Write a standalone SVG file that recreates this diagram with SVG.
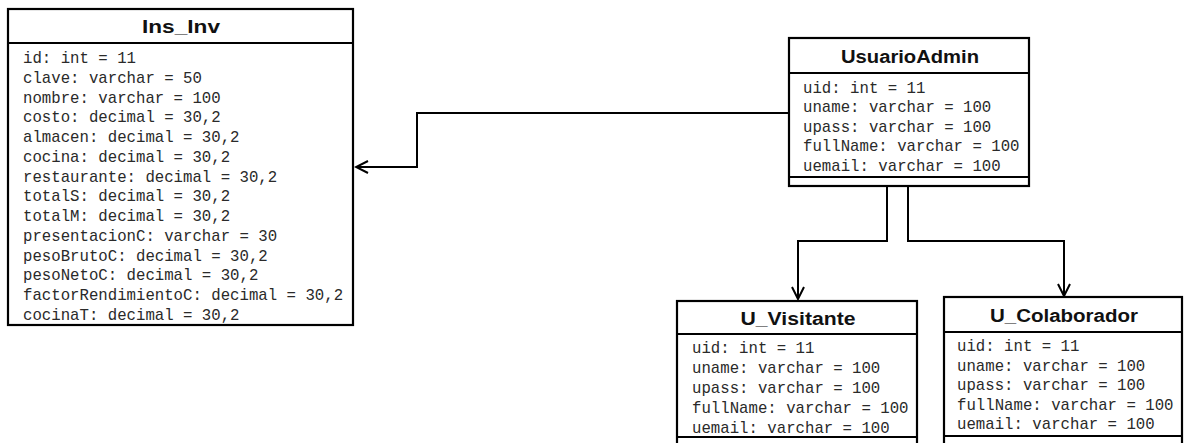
<svg xmlns="http://www.w3.org/2000/svg" width="1184" height="443" viewBox="0 0 1184 443">
<style>
.box{fill:#fff;stroke:#000;stroke-width:2.2}
.sep{stroke:#000;stroke-width:2}
.hd{font-family:"Liberation Sans",Arial,sans-serif;font-weight:bold;font-size:18px;fill:#111;text-anchor:middle}
.at{font-family:"Liberation Mono","Courier New",monospace;font-size:15.7px;fill:#2a2a2a}
.cn{fill:none;stroke:#000;stroke-width:2}
</style>
<defs>
<marker id="arr" viewBox="-14 -8 16 16" markerWidth="16" markerHeight="16" refX="0" refY="0" markerUnits="userSpaceOnUse" orient="auto">
<path d="M-12,-6 L0,0 L-12,6" fill="none" stroke="#000" stroke-width="2"/>
</marker>
</defs>
<rect width="1184" height="443" fill="#fff"/>
<g id="connectors">
<polyline class="cn" points="789,113 417,113 417,167 356,167" marker-end="url(#arr)"/>
<polyline class="cn" points="887,187 887,241 798,241 798,299" marker-end="url(#arr)"/>
<polyline class="cn" points="908,187 908,241 1064,241 1064,296" marker-end="url(#arr)"/>
</g>
<g id="Ins_Inv">
<rect class="box" x="8" y="9" width="345" height="316"/>
<line class="sep" x1="8" y1="43" x2="353" y2="43"/>
<text class="hd" x="181" y="33" textLength="78" lengthAdjust="spacingAndGlyphs">Ins_Inv</text>
<text class="at" x="23" y="63">id: int = 11</text>
<text class="at" x="23" y="82.75">clave: varchar = 50</text>
<text class="at" x="23" y="102.5">nombre: varchar = 100</text>
<text class="at" x="23" y="122.25">costo: decimal = 30,2</text>
<text class="at" x="23" y="142">almacen: decimal = 30,2</text>
<text class="at" x="23" y="161.75">cocina: decimal = 30,2</text>
<text class="at" x="23" y="181.5">restaurante: decimal = 30,2</text>
<text class="at" x="23" y="201.25">totalS: decimal = 30,2</text>
<text class="at" x="23" y="221">totalM: decimal = 30,2</text>
<text class="at" x="23" y="240.75">presentacionC: varchar = 30</text>
<text class="at" x="23" y="260.5">pesoBrutoC: decimal = 30,2</text>
<text class="at" x="23" y="280.25">pesoNetoC: decimal = 30,2</text>
<text class="at" x="23" y="300">factorRendimientoC: decimal = 30,2</text>
<text class="at" x="23" y="319.75">cocinaT: decimal = 30,2</text>
</g>
<g id="UsuarioAdmin">
<rect class="box" x="789" y="38" width="240" height="148"/>
<line class="sep" x1="789" y1="73" x2="1029" y2="73"/>
<line class="sep" x1="789" y1="177" x2="1029" y2="177"/>
<text class="hd" x="910" y="63" textLength="138" lengthAdjust="spacingAndGlyphs">UsuarioAdmin</text>
<text class="at" x="803" y="92.5">uid: int = 11</text>
<text class="at" x="803" y="112">uname: varchar = 100</text>
<text class="at" x="803" y="131.5">upass: varchar = 100</text>
<text class="at" x="803" y="151">fullName: varchar = 100</text>
<text class="at" x="803" y="170.5">uemail: varchar = 100</text>
</g>
<g id="U_Visitante">
<rect class="box" x="677" y="301" width="240" height="150"/>
<line class="sep" x1="677" y1="334" x2="917" y2="334"/>
<line class="sep" x1="677" y1="437" x2="917" y2="437"/>
<text class="hd" x="798" y="325" textLength="115" lengthAdjust="spacingAndGlyphs">U_Visitante</text>
<text class="at" x="692" y="352.5">uid: int = 11</text>
<text class="at" x="692" y="372.5">uname: varchar = 100</text>
<text class="at" x="692" y="392.5">upass: varchar = 100</text>
<text class="at" x="692" y="412.5">fullName: varchar = 100</text>
<text class="at" x="692" y="432.5">uemail: varchar = 100</text>
</g>
<g id="U_Colaborador">
<rect class="box" x="944" y="297" width="238" height="154"/>
<line class="sep" x1="944" y1="332" x2="1182" y2="332"/>
<line class="sep" x1="944" y1="436" x2="1182" y2="436"/>
<text class="hd" x="1064" y="322" textLength="148" lengthAdjust="spacingAndGlyphs">U_Colaborador</text>
<text class="at" x="957" y="350.5">uid: int = 11</text>
<text class="at" x="957" y="370.5">uname: varchar = 100</text>
<text class="at" x="957" y="390">upass: varchar = 100</text>
<text class="at" x="957" y="409.5">fullName: varchar = 100</text>
<text class="at" x="957" y="428.5">uemail: varchar = 100</text>
</g>
</svg>
